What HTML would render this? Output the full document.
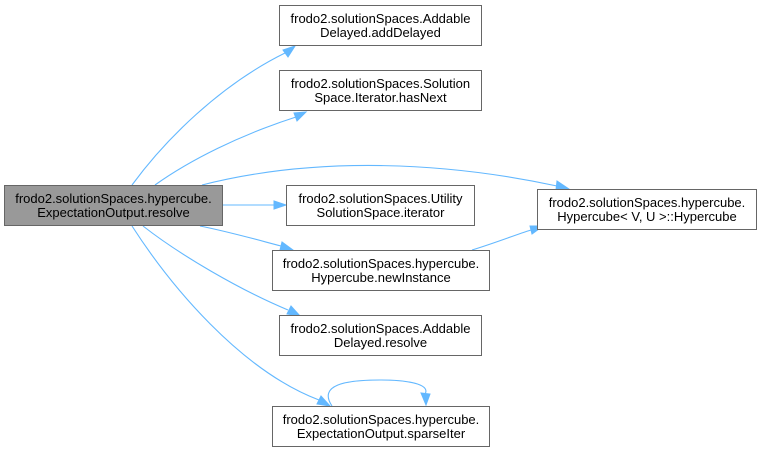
<!DOCTYPE html>
<html><head><meta charset="utf-8"><style>
html,body{margin:0;padding:0;background:#fff;}
svg{display:block;}
text{font-family:"Liberation Sans",Helvetica,Arial,sans-serif;font-size:13px;fill:#000;}
</style></head><body>
<svg width="762" height="451" viewBox="0 0 762 451" xmlns="http://www.w3.org/2000/svg">
<g fill="none" stroke="#63b8ff" stroke-width="1.1">
<path d="M132,185 C165,140 220,85 285,53"/>
<path d="M155,185 C190,160 240,135 296,117"/>
<path d="M202,185 C320,155 450,163 557,186"/>
<path d="M223,205 L274,205"/>
<path d="M200,226 C230,232 258,240 281,246"/>
<path d="M143,226 C180,255 240,290 288,310"/>
<path d="M132,226 C170,285 240,370 319,400"/>
<path d="M472,250 C495,243 515,235 531,230"/>
<path d="M332,406 C318,385 345,380 380,380 C415,380 430,386 425,394"/>
</g>
<g fill="#63b8ff" stroke="#63b8ff" stroke-width="1">
<polygon points="295,46 283,50 288,57"/>
<polygon points="306,112 294,113 297,121"/>
<polygon points="569,189 557,181 556,190"/>
<polygon points="286,205 274,201 274,209"/>
<polygon points="293,250 282,242 280,250"/>
<polygon points="300,316 291,306 287,314"/>
<polygon points="330,406 321,396 317,404"/>
<polygon points="426,405 430,394 421,393"/>
<polygon points="543,226 530,226 532,234"/>
</g>
<g stroke="#666666" stroke-width="1">
<rect x="4.5" y="185.5" width="218" height="40" fill="#999999"/>
<rect x="279.5" y="5.5" width="202" height="40" fill="#fff"/>
<rect x="279.5" y="70.5" width="202" height="40" fill="#fff"/>
<rect x="286.5" y="185.5" width="188" height="40" fill="#fff"/>
<rect x="272.5" y="250.5" width="217" height="40" fill="#fff"/>
<rect x="279.5" y="315.5" width="202" height="40" fill="#fff"/>
<rect x="272.5" y="406.5" width="217" height="40" fill="#fff"/>
<rect x="537.5" y="189.5" width="219" height="40" fill="#fff"/>
</g>
<g text-anchor="middle">
<text x="113.5" y="203">frodo2.solutionSpaces.hypercube.</text>
<text x="113.5" y="217">ExpectationOutput.resolve</text>
<text x="380.5" y="23">frodo2.solutionSpaces.Addable</text>
<text x="380.5" y="37">Delayed.addDelayed</text>
<text x="380.5" y="88">frodo2.solutionSpaces.Solution</text>
<text x="380.5" y="102">Space.Iterator.hasNext</text>
<text x="380.5" y="203">frodo2.solutionSpaces.Utility</text>
<text x="380.5" y="217">SolutionSpace.iterator</text>
<text x="381" y="268">frodo2.solutionSpaces.hypercube.</text>
<text x="381" y="282">Hypercube.newInstance</text>
<text x="380.5" y="333">frodo2.solutionSpaces.Addable</text>
<text x="380.5" y="347">Delayed.resolve</text>
<text x="381" y="424">frodo2.solutionSpaces.hypercube.</text>
<text x="381" y="438">ExpectationOutput.sparseIter</text>
<text x="647" y="207">frodo2.solutionSpaces.hypercube.</text>
<text x="647" y="221">Hypercube&lt; V, U &gt;::Hypercube</text>
</g>
</svg>
</body></html>
